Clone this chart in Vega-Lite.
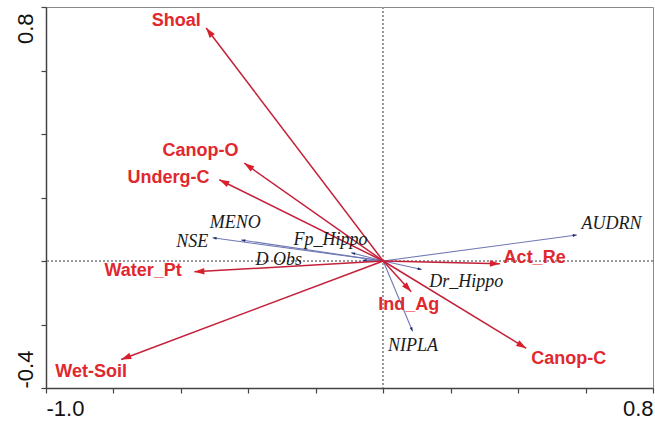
{
  "$schema": "https://vega.github.io/schema/vega-lite/v6.json",
  "autosize": {"type": "none"},
  "padding": {"left": 46, "top": 7, "right": 2, "bottom": 36},
  "width": 607,
  "height": 381,
  "background": "white",
  "config": {
    "view": {"stroke": "#8a8a8a", "strokeWidth": 1},
    "axis": {
      "grid": false,
      "domainColor": "#444",
      "domainWidth": 1.5,
      "tickColor": "#444",
      "tickWidth": 1.2,
      "tickSize": 5,
      "labelFont": "Liberation Sans",
      "labelFontSize": 22,
      "labelColor": "#111",
      "title": null
    }
  },
  "datasets": {
    "arrows": [
      {"name": "Shoal", "type": "env", "x": -0.525, "y": 0.734, "lx": -0.614, "ly": 0.757},
      {"name": "Canop-O", "type": "env", "x": -0.412, "y": 0.308, "lx": -0.542, "ly": 0.345},
      {"name": "Underg-C", "type": "env", "x": -0.486, "y": 0.256, "lx": -0.637, "ly": 0.262},
      {"name": "Water_Pt", "type": "env", "x": -0.56, "y": -0.034, "lx": -0.712, "ly": -0.032},
      {"name": "Wet-Soil", "type": "env", "x": -0.777, "y": -0.31, "lx": -0.866, "ly": -0.35},
      {"name": "Act_Re", "type": "env", "x": 0.346, "y": -0.009, "lx": 0.449, "ly": 0.009},
      {"name": "Ind_Ag", "type": "env", "x": 0.083, "y": -0.097, "lx": 0.076, "ly": -0.139},
      {"name": "Canop-C", "type": "env", "x": 0.424, "y": -0.275, "lx": 0.55, "ly": -0.309},
      {"name": "AUDRN", "type": "sp", "x": 0.574, "y": 0.082, "lx": 0.677, "ly": 0.117},
      {"name": "Dr_Hippo", "type": "sp", "x": 0.114, "y": -0.027, "lx": 0.246, "ly": -0.065},
      {"name": "NIPLA", "type": "sp", "x": 0.087, "y": -0.221, "lx": 0.088, "ly": -0.268},
      {"name": "NSE", "type": "sp", "x": -0.506, "y": 0.073, "lx": -0.566, "ly": 0.06},
      {"name": "MENO", "type": "sp", "x": -0.421, "y": 0.066, "lx": -0.439, "ly": 0.12},
      {"name": "Fp_Hippo", "type": "sp", "x": -0.095, "y": 0.026, "lx": -0.156, "ly": 0.066},
      {"name": "D Obs", "type": "sp", "x": -0.061, "y": 0.002, "lx": -0.31, "ly": 0.003}
    ]
  },
  "data": {"name": "arrows"},
  "encoding": {
    "x": {
      "type": "quantitative",
      "scale": {"domain": [-1.0, 0.8], "nice": false, "zero": false},
      "axis": {
        "values": [-1.0, -0.8, -0.6, -0.4, -0.2, 0, 0.2, 0.4, 0.6, 0.8],
        "labelExpr": "datum.value == -1 ? '-1.0' : (datum.value == 0.8 ? '0.8' : '')",
        "labelFlush": true,
        "labelPadding": 5
      }
    },
    "y": {
      "type": "quantitative",
      "scale": {"domain": [-0.4, 0.8], "nice": false, "zero": false},
      "axis": {
        "values": [-0.4, -0.2, 0, 0.2, 0.4, 0.6, 0.8],
        "labelExpr": "datum.value == -0.4 ? '-0.4' : (datum.value == 0.8 ? '0.8' : '')",
        "labelAngle": -90,
        "labelAlign": {"expr": "datum.value > 0 ? 'right' : 'left'"},
        "labelBaseline": "bottom",
        "labelPadding": 4,
        "labelOffset": {"expr": "datum.value > 0 ? 6 : 0"}
      }
    }
  },
  "layer": [
    {
      "mark": {"type": "rule", "color": "#9a9a9a", "strokeDash": [2, 2], "strokeWidth": 1},
      "encoding": {"x": {"datum": 0}, "y": null}
    },
    {
      "mark": {"type": "rule", "color": "#9a9a9a", "strokeDash": [2, 2], "strokeWidth": 1},
      "encoding": {"y": {"datum": 0}, "x": null}
    },
    {
      "transform": [{"filter": "datum.type == 'sp'"}],
      "mark": {"type": "rule", "color": "#6f78b4", "strokeWidth": 1.1},
      "encoding": {
        "x": {"field": "x"},
        "y": {"field": "y"},
        "x2": {"datum": 0},
        "y2": {"datum": 0}
      }
    },
    {
      "transform": [{"filter": "datum.type == 'sp'"}],
      "mark": {
        "type": "point",
        "filled": true,
        "opacity": 1,
        "color": "#1f2a6b",
        "shape": "M0,0L0.7,2L-0.7,2Z",
        "size": 16,
        "angle": {"expr": "atan2(datum.x*337, datum.y*317)*180/PI"}
      },
      "encoding": {"x": {"field": "x"}, "y": {"field": "y"}}
    },
    {
      "transform": [{"filter": "datum.type == 'env'"}],
      "mark": {"type": "rule", "color": "#c4203a", "strokeWidth": 1.5},
      "encoding": {
        "x": {"field": "x"},
        "y": {"field": "y"},
        "x2": {"datum": 0},
        "y2": {"datum": 0}
      }
    },
    {
      "transform": [{"filter": "datum.type == 'env'"}],
      "mark": {
        "type": "point",
        "filled": true,
        "opacity": 1,
        "color": "#d8202c",
        "shape": "M0,0L0.65,2L-0.65,2Z",
        "size": 100,
        "angle": {"expr": "atan2(datum.x*337, datum.y*317)*180/PI"}
      },
      "encoding": {"x": {"field": "x"}, "y": {"field": "y"}}
    },
    {
      "transform": [{"filter": "datum.type == 'sp'"}],
      "mark": {
        "type": "text",
        "font": "Liberation Serif",
        "fontStyle": "italic",
        "fontSize": 18,
        "color": "#1a1a1a",
        "align": "center",
        "baseline": "middle"
      },
      "encoding": {
        "x": {"field": "lx"},
        "y": {"field": "ly"},
        "text": {"field": "name"}
      }
    },
    {
      "transform": [{"filter": "datum.type == 'env'"}],
      "mark": {
        "type": "text",
        "font": "Liberation Sans",
        "fontWeight": "bold",
        "fontSize": 18,
        "color": "#e0282e",
        "align": "center",
        "baseline": "middle"
      },
      "encoding": {
        "x": {"field": "lx"},
        "y": {"field": "ly"},
        "text": {"field": "name"}
      }
    }
  ]
}
